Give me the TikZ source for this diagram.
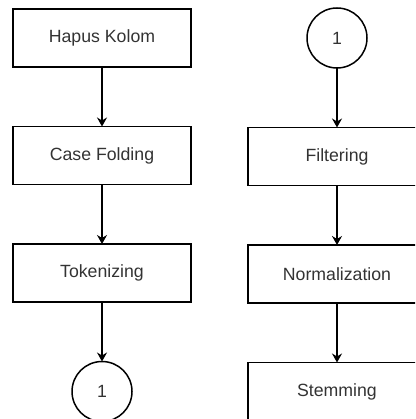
\documentclass[tikz,border=0pt]{standalone}
\usepackage{fontspec}
\setmainfont{Liberation Sans}
\usepackage{xcolor}
\usetikzlibrary{positioning,arrows.meta}

\definecolor{txtgray}{HTML}{333333}

\begin{document}
\begin{tikzpicture}[x=1pt, y=-1pt, node distance=59.5pt,
        every node/.style={font=\fontsize{17.7}{21}\selectfont, text=txtgray, line width=1.5pt, outer sep=0pt, inner sep=0pt},
        process/.style={draw, rectangle, minimum width=178pt, minimum height=58pt},
        connector/.style={draw, circle, minimum size=60pt},
        flow/.style={-{Stealth[length=9pt, width=10pt, inset=3pt]}, line width=1.5pt}]
        % frame
        \useasboundingbox (0,0) rectangle (415,419);
        \clip (0,0) rectangle (415,419);
        % left column
        \node [process] (kolom) at (102,38) {Hapus Kolom};
        \node [process, below=of kolom] (folding) {Case Folding};
        \node [process, below=of folding] (token) {Tokenizing};
        \node [connector, below=of token] (outone) {1};
        % right column
        \node [connector] (inone) at (337,38) {1};
        \node [process, below=of inone] (filter) {Filtering};
        \node [process, below=of filter] (normal) {Normalization};
        \node [process, below=of normal] (stem) {Stemming};
        % arrows
        \draw [flow] (kolom) -- (folding);
        \draw [flow] (folding) -- (token);
        \draw [flow] (token) -- (outone);
        \draw [flow] (inone) -- (filter);
        \draw [flow] (filter) -- (normal);
        \draw [flow] (normal) -- (stem);
    \end{tikzpicture}
\end{document}
